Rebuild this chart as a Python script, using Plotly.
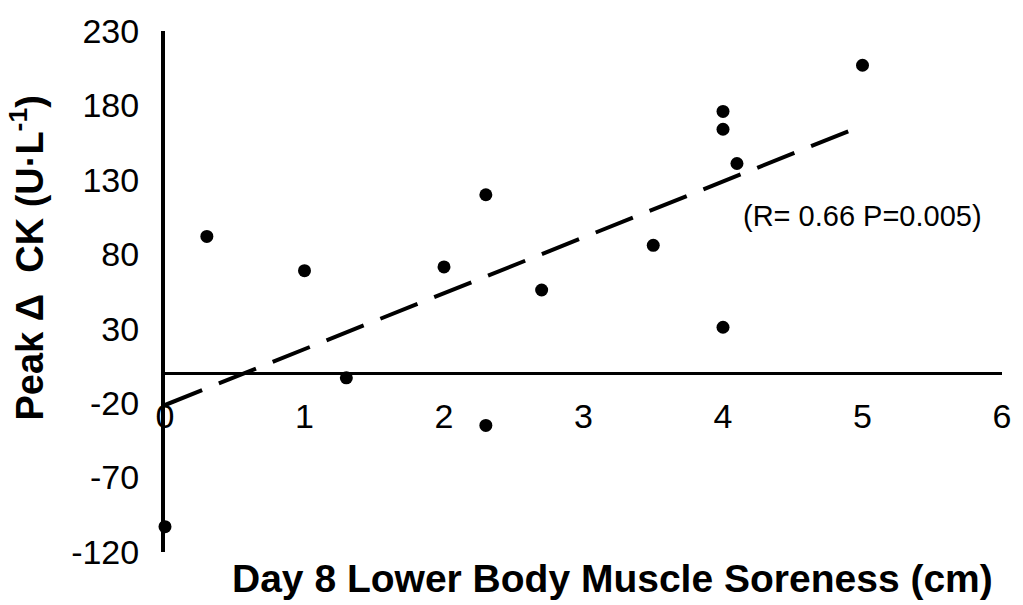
import numpy as np
import plotly.graph_objects as go

# Day 8 lower body muscle soreness (cm) vs peak change in CK (U·L-1)
soreness = [0, 0.3, 1, 1.3, 2, 2.3, 2.3, 2.7, 3.5, 4, 4, 4, 4.1, 5]
peak_ck = [-103, 92, 69, -3, 71.5, 120, -35, 56, 86, 176, 164, 31, 141, 207]

x_ticks = [0, 1, 2, 3, 4, 5, 6]
y_ticks = [-120, -70, -20, 30, 80, 130, 180, 230]
stats_label = "(R= 0.66 P=0.005)"

FONT = "Liberation Sans, Arial, sans-serif"

# least-squares trend line across the observed soreness range
slope, intercept = np.polyfit(soreness, peak_ck, 1)
trend_x = [min(soreness), max(soreness)]
trend_y = [slope * v + intercept for v in trend_x]

y_range = [min(y_ticks), max(y_ticks)]

fig = go.Figure()
fig.add_trace(go.Scatter(
    x=trend_x, y=trend_y, mode="lines",
    line=dict(color="black", width=4, dash="40px,18px"),
    cliponaxis=False, hoverinfo="skip", showlegend=False,
))
fig.add_trace(go.Scatter(
    x=soreness, y=peak_ck, mode="markers",
    marker=dict(color="black", size=13),
    cliponaxis=False, showlegend=False,
))

fig.add_annotation(
    x=4.13, y=106, xref="x", yref="y", text=stats_label,
    showarrow=False, xanchor="left", yanchor="middle",
    font=dict(family=FONT, size=29, color="black"),
)
# axis titles
fig.add_annotation(
    x=-0.165, y=0.565, xref="paper", yref="paper",
    text="<b>Peak Δ&nbsp; CK (U·L<sup>-1</sup>)</b>",
    textangle=-90, showarrow=False, xanchor="center", yanchor="middle",
    font=dict(family=FONT, size=38, color="black"),
)
fig.add_annotation(
    x=0.535, y=-0.05, xref="paper", yref="paper",
    text="<b>Day 8 Lower Body Muscle Soreness (cm)</b>",
    showarrow=False, xanchor="center", yanchor="middle",
    font=dict(family=FONT, size=39, color="black"),
)

fig.update_layout(
    width=1023, height=605,
    margin=dict(l=165, r=16, t=23, b=53),
    paper_bgcolor="white", plot_bgcolor="white",
    font=dict(family=FONT, color="black"),
    xaxis=dict(
        range=[0, 6], tickmode="array", tickvals=x_ticks,
        ticktext=[str(t) for t in x_ticks],
        showline=False, showgrid=False, zeroline=False, ticks="",
        anchor="free",
        position=(0 - y_range[0]) / (y_range[1] - y_range[0]),
        ticklabelstandoff=20,
        tickfont=dict(family=FONT, size=34, color="black"),
    ),
    yaxis=dict(
        range=y_range, tickmode="array", tickvals=y_ticks,
        ticktext=[str(t) for t in y_ticks],
        showline=True, linecolor="black", linewidth=4,
        showgrid=False, zeroline=True, zerolinecolor="black",
        zerolinewidth=3, ticks="", ticklabelstandoff=15,
        tickfont=dict(family=FONT, size=34, color="black"),
    ),
)

fig.write_html("out.html")
